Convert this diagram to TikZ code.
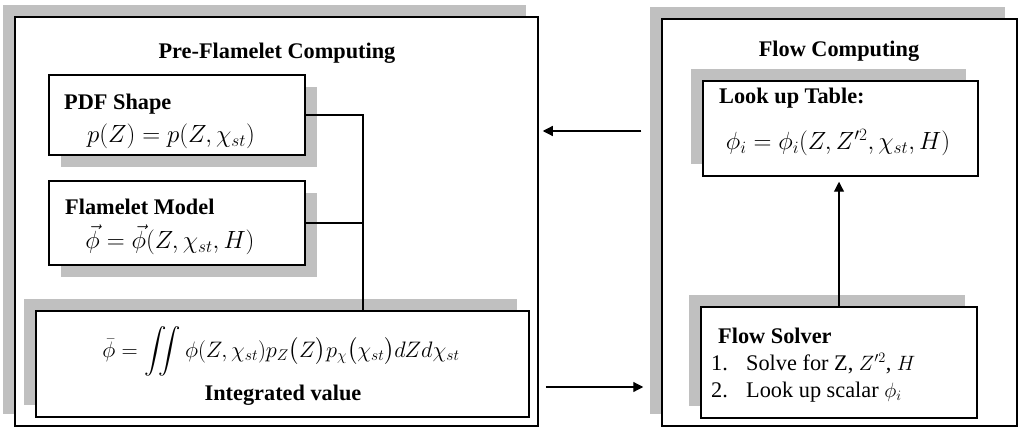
\documentclass[tikz,border=0pt]{standalone}
\usepackage{amsmath}
\usepackage{graphicx}
\usepackage{fontspec}
\setmainfont{Liberation Serif}
\usetikzlibrary{arrows.meta,shadows}
\definecolor{shadowgray}{RGB}{192,192,192}

\tikzset{
  frame/.style={draw, line width=1.5pt, fill=white, inner sep=0pt,
    general shadow={draw=none, fill=shadowgray, shadow xshift=-12pt, shadow yshift=12pt}},
  boxr/.style={draw, line width=1.5pt, fill=white, inner sep=0pt,
    general shadow={draw=none, fill=shadowgray, shadow xshift=12pt, shadow yshift=-12pt}},
  heading/.style={font=\bfseries\fontsize{22.3}{26}\selectfont, inner sep=0pt},
  plain/.style={font=\fontsize{22.3}{26}\selectfont, inner sep=0pt},
  maths/.style={font=\fontsize{23}{27}\selectfont, inner sep=0pt},
  link/.style={line width=1.2pt},
  arr/.style={line width=1.2pt, -{Triangle[length=10pt,width=10pt]}}
}

\begin{document}
\begin{tikzpicture}[x=1pt,y=-1pt]
    \useasboundingbox (0,0) rectangle (1024,435);

    % the two computing frames
    \node[frame, minimum width=523pt, minimum height=409pt] (lframe) at (276.5,221.5) {};
    \node[frame, minimum width=355pt, minimum height=407pt] (rframe) at (839.5,222.5) {};
    \node[heading, anchor=base] (ltitle) at (277,59) {Pre-Flamelet Computing};
    \node[heading, anchor=base] (rtitle) at (839,57) {Flow Computing};

    % pre-flamelet side
    \node[boxr, minimum width=256pt, minimum height=80pt] (pdf) at (177,115) {};
    \node[heading, anchor=base west] (pdft) at (64,110) {PDF Shape};
    \node[maths, anchor=base] (pdfm) at (171,143) {$p(Z) = p(Z,\chi_{st})$};

    \node[boxr, minimum width=256pt, minimum height=84pt] (flamelet) at (177,223) {};
    \node[heading, anchor=base west] (flamelett) at (65,215) {Flamelet Model};
    \node[maths, anchor=base] (flameletm) at (170,249) {$\vec{\phi} = \vec{\phi}(Z,\chi_{st},H)$};

    \node[frame, minimum width=493pt, minimum height=106pt] (integ) at (282.5,364) {};
    \node[maths, anchor=base] (integm) at (281,357)
        {\scalebox{0.9}{$\displaystyle\bar{\phi} = \iint \phi(Z,\chi_{st})p_Z\bigl(Z\bigr)p_\chi\bigl(\chi_{st}\bigr)dZd\chi_{st}$}};
    \node[heading, anchor=base] (integt) at (283,400) {Integrated value};

    % flow side
    \node[frame, minimum width=275pt, minimum height=95pt] (lookup) at (840.5,128.5) {};
    \node[heading, anchor=base west] (lookupt) at (719,104) {Look up Table:};
    \node[maths, anchor=base] (lookupm) at (838,150) {$\phi_i = \phi_i(Z,Z'^2,\chi_{st},H)$};

    \node[frame, minimum width=276pt, minimum height=111pt] (solver) at (839,362.5) {};
    \node[heading, anchor=base west] (solvert) at (718,343) {Flow Solver};
    \node[plain, anchor=base west] (step1) at (711,370) {\makebox[35pt][l]{1.}Solve for Z, $Z'^2$, $H$};
    \node[plain, anchor=base west] (step2) at (711,397) {\makebox[35pt][l]{2.}Look up scalar $\phi_i$};

    % connectors
    \coordinate (bus) at (363,0);
    \coordinate (toparrow) at (0,131);
    \coordinate (botarrow) at (0,387);
    \draw[link] (pdf.east) -| (bus |- integ.north);
    \draw[link] (flamelet.east) -- (bus |- flamelet.east);
    \draw[arr, shorten >=5pt] (solver.north) -- (solver.north |- lookup.south);
    \draw[arr] ([xshift=-20pt]rframe.west |- toparrow) -- ([xshift=4pt]lframe.east |- toparrow);
    \draw[arr] ([xshift=7pt]lframe.east |- botarrow) -- ([xshift=-18pt]rframe.west |- botarrow);
\end{tikzpicture}
\end{document}
